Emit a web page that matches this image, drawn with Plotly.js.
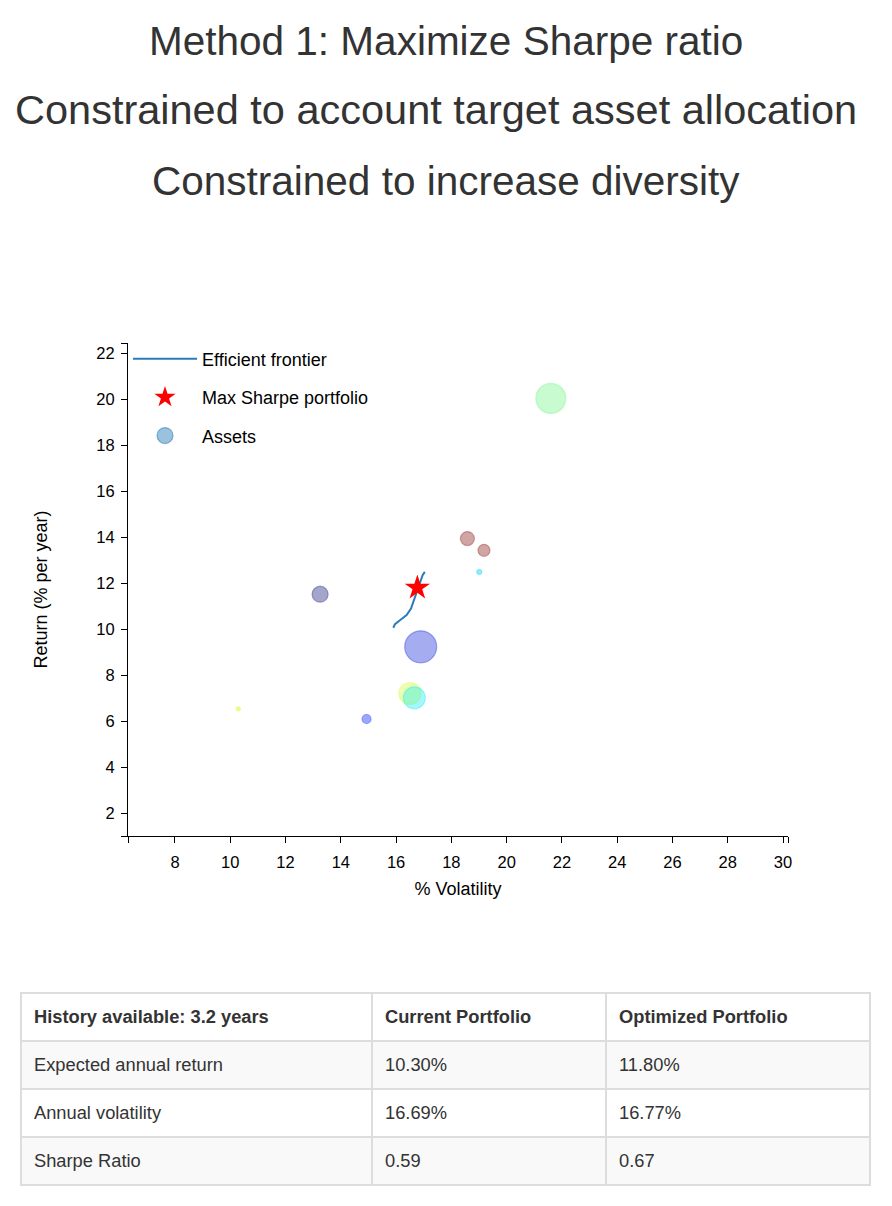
<!DOCTYPE html>
<html>
<head>
<meta charset="utf-8">
<script src="https://cdn.plot.ly/plotly-3.0.1.min.js"></script>
<style>
  html, body { margin: 0; padding: 0; background: #fff; width: 892px; height: 1206px; overflow: hidden; }
  #chart { position: absolute; left: 0; top: 0; width: 892px; height: 940px; }
  table { position: absolute; left: 20px; top: 992px; width: 849px; border-collapse: collapse; table-layout: fixed;
          font-family: "Liberation Sans", Arial, Helvetica, sans-serif; font-size: 18.3px; color: #333; }
  td, th { border: 2px solid #ddd; height: 48px; padding: 0 0 0 12px; text-align: left; vertical-align: middle;
           box-sizing: border-box; }
  th { font-weight: bold; }
  tbody tr:nth-child(odd) td { background: #f9f9f9; }
</style>
</head>
<body>
<div id="chart"></div>
<table id="stats">
  <colgroup><col style="width:351px"><col style="width:234px"><col style="width:264px"></colgroup>
  <thead><tr id="hdr"></tr></thead>
  <tbody id="tb"></tbody>
</table>
<script>
// ---- Data ----
var titleLines = ["Method 1: Maximize Sharpe ratio",
                  "Constrained to account target asset allocation",
                  "Constrained to increase diversity"];

var frontierVol = [15.90, 15.96, 16.14, 16.38, 16.54, 16.62, 16.74, 16.86, 16.96, 17.04];
var frontierRet = [10.06, 10.22, 10.39, 10.61, 10.90, 11.19, 11.55, 12.06, 12.35, 12.49];

var sharpeVol = [16.77];
var sharpeRet = [11.80];

var assetVol   = [21.60, 18.58, 19.18, 19.01, 13.25, 16.89, 16.50, 16.66, 14.93, 10.29];
var assetRet   = [20.04, 13.94, 13.43, 12.49, 11.52, 9.23, 7.20, 7.01, 6.09, 6.53];
var assetSize  = [30, 14, 12, 5, 16, 32, 22, 22, 9, 4];
var assetColor = ["rgba(100,245,120,0.5)", "rgba(128,0,0,0.5)", "rgba(128,0,0,0.5)",
                  "rgba(0,210,250,0.6)", "rgba(0,0,110,0.5)", "rgba(0,20,215,0.5)",
                  "rgba(205,255,40,0.5)", "rgba(0,235,245,0.5)", "rgba(0,30,255,0.55)",
                  "rgba(205,255,40,0.7)"];

var xTickVals = [6.3, 8, 10, 12, 14, 16, 18, 20, 22, 24, 26, 28, 30, 30.18];
var xTickText = ["", "8", "10", "12", "14", "16", "18", "20", "22", "24", "26", "28", "30", ""];
var yTickVals = [1.0, 2, 4, 6, 8, 10, 12, 14, 16, 18, 20, 22, 22.45];
var yTickText = ["", "2", "4", "6", "8", "10", "12", "14", "16", "18", "20", "22", ""];

var tableHeader = ["History available: 3.2 years", "Current Portfolio", "Optimized Portfolio"];
var tableRows = [
  ["Expected annual return", "10.30%", "11.80%"],
  ["Annual volatility", "16.69%", "16.77%"],
  ["Sharpe Ratio", "0.59", "0.67"]
];

// ---- Chart ----
var FONT = "Liberation Sans, Arial, Helvetica, sans-serif";

var traces = [
  { type: "scatter", mode: "lines", name: "Efficient frontier", legendgroup: "a",
    x: frontierVol, y: frontierRet, line: { color: "#2b7bba", width: 2 }, hoverinfo: "skip" },
  { type: "scatter", mode: "markers", name: "Max Sharpe portfolio", legendgroup: "b",
    x: sharpeVol, y: sharpeRet,
    marker: { symbol: "star", color: "#ff0000", size: 19, line: { width: 0 } } },
  { type: "scatter", mode: "markers", name: "Assets", legendgroup: "c", showlegend: false,
    x: assetVol, y: assetRet,
    marker: { size: assetSize, color: assetColor, line: { color: assetColor, width: 1.2 } } },
  { type: "scatter", mode: "markers", name: "Assets", legendgroup: "c",
    x: [null], y: [null],
    marker: { size: 22, color: "rgba(31,119,180,0.45)", line: { color: "rgba(31,119,180,0.5)", width: 1.2 } } }
];

var H = 940, plotTop = 343, plotBot = 836;
function py(yPix) { return (plotBot - yPix) / (plotBot - plotTop); }
function px(xPix) { return (xPix - 128) / (788 - 128); }

var titleY = [41, 109, 181];
var titleX = [446, 436, 446];
var titleSize = [40.5, 41.5, 40.5];
var annotations = titleLines.map(function (t, i) {
  return { text: t, xref: "paper", yref: "paper", x: px(titleX[i]), xanchor: "center",
           y: py(titleY[i]), yanchor: "middle", showarrow: false,
           font: { family: FONT, size: titleSize[i], color: "#333" } };
});

var layout = {
  width: 892, height: H,
  margin: { l: 128, r: 892 - 788, t: plotTop, b: H - plotBot, pad: 0 },
  paper_bgcolor: "#fff", plot_bgcolor: "#fff",
  font: { family: FONT, color: "#000", size: 17 },
  showlegend: true,
  legend: { x: 0, y: 1.005, xanchor: "left", yanchor: "top", bgcolor: "rgba(0,0,0,0)",
            font: { size: 18, color: "#000", family: FONT }, traceorder: "grouped",
            tracegroupgap: 12, itemwidth: 64, itemsizing: "trace" },
  xaxis: { range: [6.3, 30.18], showgrid: false, zeroline: false, showline: true,
           linecolor: "#000", linewidth: 1, ticks: "outside", ticklen: 6, tickcolor: "#000",
           tickmode: "array", tickvals: xTickVals, ticktext: xTickText, ticklabelstandoff: 5,
           tickfont: { size: 16.5, color: "#000" },
           title: { text: "% Volatility", font: { size: 18, color: "#000" }, standoff: 12 } },
  yaxis: { range: [1.0, 22.45], showgrid: false, zeroline: false, showline: true,
           linecolor: "#000", linewidth: 1, ticks: "outside", ticklen: 6, tickcolor: "#000",
           tickmode: "array", tickvals: yTickVals, ticktext: yTickText, ticklabelstandoff: 3,
           tickfont: { size: 16.5, color: "#000" },
           title: { text: "Return (% per year)", font: { size: 18, color: "#000" }, standoff: 44 } },
  annotations: annotations
};

Plotly.newPlot("chart", traces, layout, { displayModeBar: false, staticPlot: true });

// ---- Table ----
var hdr = document.getElementById("hdr");
tableHeader.forEach(function (h) {
  var th = document.createElement("th");
  th.textContent = h;
  hdr.appendChild(th);
});
var tb = document.getElementById("tb");
tableRows.forEach(function (r) {
  var tr = document.createElement("tr");
  r.forEach(function (c) { var td = document.createElement("td"); td.textContent = c; tr.appendChild(td); });
  tb.appendChild(tr);
});
</script>
</body>
</html>
